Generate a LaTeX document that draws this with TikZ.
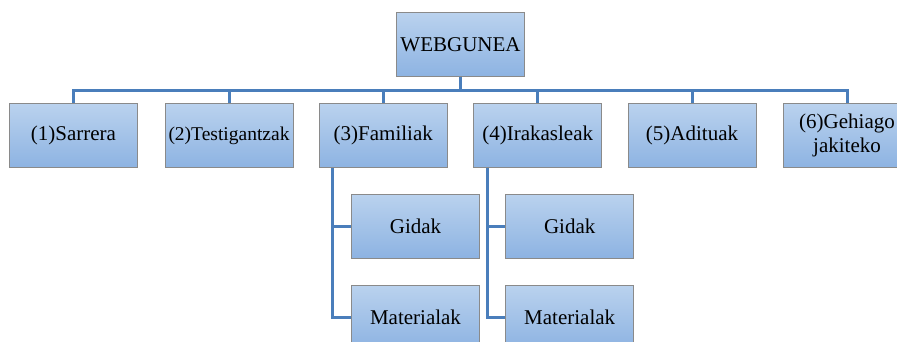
\documentclass[tikz,border=0pt]{standalone}
\usepackage{fontspec}
\setmainfont{Liberation Serif}
\definecolor{boxtop}{HTML}{BAD2EE}
\definecolor{boxbot}{HTML}{8DB3E2}
\definecolor{boxline}{HTML}{8A8A8A}
\definecolor{linkblue}{HTML}{4A7EBB}
\tikzset{
  pagina/.style={rectangle, draw=boxline, line width=1pt, top color=boxtop, bottom color=boxbot,
    minimum width=128pt, minimum height=64pt, inner sep=0pt, align=center,
    font=\fontsize{21}{24}\selectfont},
  link/.style={draw=linkblue, line width=3pt}
}
\begin{document}
\begin{tikzpicture}[x=1pt, y=-1pt]
            \path[use as bounding box, clip] (0,0) rectangle (897,342);
            % Nodo principale
            \node[pagina] (web) at (460.5,44.3) {WEBGUNEA};

            % Primo livello
            \foreach \nodename/\nodex/\nodetext in {sarrera/73.5/(1)Sarrera, testigantzak/229/{\fontsize{19.5}{24}\selectfont(2)Testigantzak}, familiak/383.3/(3)Familiak, irakasleak/537.7/(4)Irakasleak, adituak/692/(5)Adituak, gehiago/847/{(6)Gehiago\\jakiteko}}
            {
                \node[pagina] (\nodename) at (\nodex,135.5) {\nodetext};
                \draw[link] (web.south) -- ++(0,13.5) -| (\nodename.north);
            }

            % Secondo livello
            \foreach \parentname/\nodex in {familiak/415.5, irakasleak/569.7}
            {
                \node[pagina] (\parentname-gidak) at (\nodex,226) {Gidak};
                \node[pagina] (\parentname-materialak) at (\nodex,317) {Materialak};
                \draw[link] ([xshift=-50.5pt]\parentname.south) |- (\parentname-gidak.west);
                \draw[link] ([xshift=-50.5pt]\parentname.south) |- (\parentname-materialak.west);
            }
        \end{tikzpicture}
\end{document}
